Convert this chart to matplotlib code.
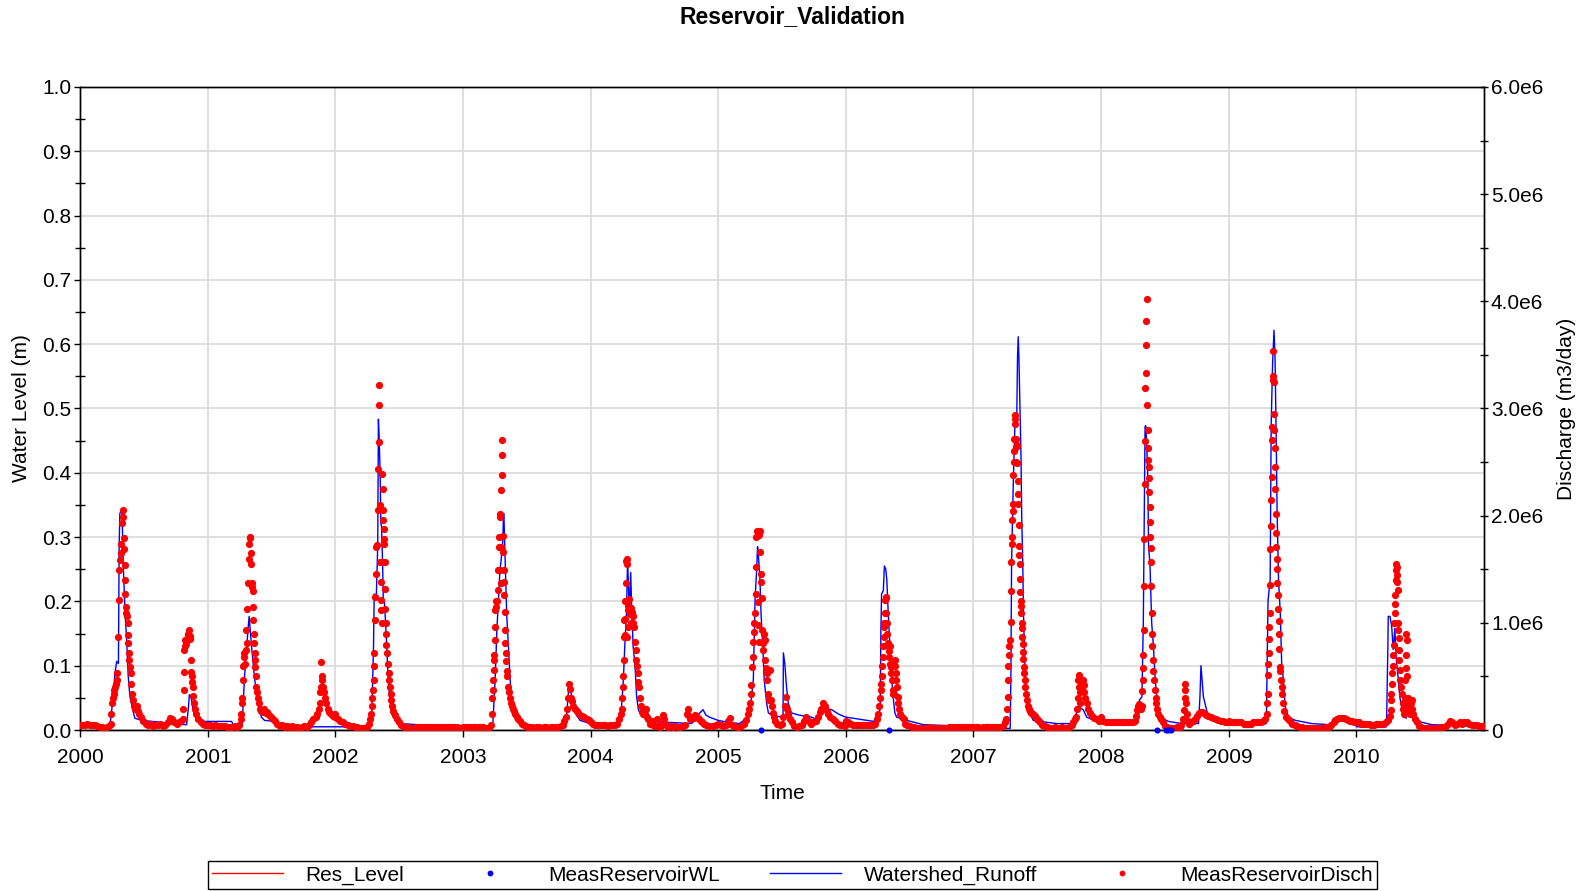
import pandas as pd
import matplotlib
matplotlib.use('Agg')
import matplotlib.pyplot as plt
from matplotlib.ticker import FuncFormatter, MultipleLocator
from matplotlib.lines import Line2D

plt.rcParams['font.family'] = ['Liberation Sans', 'DejaVu Sans']

# measured reservoir discharge, (day of year, 1e6 m3/day)
disch_2000 = [(0,.05),(7,.05),(14,.05),(21,.055),(28,.05),(35,.045),(42,.05),(49,.04),(56,.03),(63,.025),(70,.02),(77,.025),(84,.04),
              (88,.06),(90,.15),(92,.25),(94,.3),(96,.34),(98,.37),(100,.4),(103,.43),(105,.47),(107,.53),(109,.87),(111,1.21),
              (113,1.49),(115,1.59),(116,1.65),(118,1.74),(120,1.93),(122,1.99),(124,2.05),(126,1.79),(127,1.69),(128,1.54),
              (129,1.4),(130,1.27),(131,1.15),(132,1.09),(134,1.06),(136,1.0),(137,.89),(138,.81),(139,.72),(141,.65),(143,.59),
              (145,.53),(147,.43),(149,.34),(152,.28),(155,.22),(158,.2),(162,.22),(166,.18),(170,.15),(175,.12),(181,.08),
              (188,.06),(195,.05),(202,.06),(209,.04),(216,.05),(223,.05),(230,.06),(237,.04),(244,.05),(251,.07),(258,.11),
              (263,.1),(270,.07),(277,.06),(284,.07),(290,.08),(294,.1),(296,.2),(297,.37),(298,.54),(299,.75),(300,.84),
              (301,.78),(303,.8),(305,.84),(308,.87),(310,.9),(312,.93),(314,.88),(316,.85),(318,.65),(319,.54),(320,.5),
              (321,.45),(322,.4),(324,.32),(326,.25),(329,.2),(333,.15),(339,.1),(345,.07),(352,.06),(359,.05)]
disch_2001 = [(0,.05),(7,.05),(14,.04),(21,.05),(28,.04),(35,.04),(42,.04),(49,.04),(56,.03),(63,.03),(70,.03),(77,.04),(84,.03),
              (90,.05),(94,.1),(96,.15),(98,.25),(99,.3),(100,.47),(101,.6),(102,.68),(104,.72),(106,.62),(108,.75),(110,.93),
              (112,1.13),(113,.81),(115,1.37),(117,1.6),(118,1.74),(120,1.8),(121,1.79),(122,1.65),(123,1.55),(125,1.37),
              (126,1.33),(128,1.3),(129,1.15),(130,1.03),(131,.9),(133,.81),(134,.72),(135,.65),(136,.59),(137,.5),(139,.4),
              (141,.35),(143,.3),(146,.25),(149,.2),(153,.18),(157,.17),(161,.2),(165,.16),(170,.17),(175,.14),(180,.12),
              (186,.1),(192,.08),(199,.06),(206,.04),(213,.05),(220,.03),(227,.04),(234,.03),(241,.04),(248,.02),(255,.03),
              (262,.02),(269,.03),(276,.04),(283,.03),(290,.05),(296,.07),(302,.1),(308,.12),(313,.15),(317,.2),(320,.25),
              (322,.35),(324,.4),(325,.63),(326,.5),(327,.47),(329,.4),(331,.35),(334,.3),(338,.25),(343,.2),(348,.17),
              (353,.15),(358,.13),(364,.12)]
disch_2002 = [(0,.15),(7,.1),(14,.08),(21,.07),(28,.06),(35,.05),(42,.04),(49,.04),(56,.03),(63,.03),(70,.02),(77,.02),(84,.02),
              (91,.03),(96,.06),(99,.1),(102,.15),(104,.22),(106,.3),(108,.37),(109,.47),(110,.6),(111,.72),(113,1.03),
              (114,1.24),(115,1.46),(117,1.71),(119,1.73),(121,2.05),(123,2.44),(124,3.03),(125,3.22),(126,2.69),(127,2.1),
              (128,1.57),(129,1.38),(130,1.21),(131,1.12),(132,1.57),(133,1.0),(134,2.39),(135,2.25),(136,2.05),(137,1.96),
              (138,1.88),(139,1.78),(140,1.74),(141,1.57),(142,1.32),(143,1.13),(144,1.0),(145,.9),(146,.79),(148,.72),
              (150,.62),(152,.53),(154,.47),(156,.4),(158,.34),(160,.28),(163,.22),(166,.18),(170,.14),(175,.1),(181,.07),
              (188,.05),(195,.03),(202,.02),(209,.03),(216,.02),(223,.02),(230,.03),(237,.03),(244,.03),(251,.03),(258,.03),
              (265,.03),(272,.03),(279,.03),(286,.03),(293,.03),(300,.03),(307,.03),(314,.03),(321,.03),(328,.03),(335,.03),
              (342,.03),(349,.03),(356,.02),(363,.02)]
disch_2003 = [(0,.03),(7,.03),(14,.03),(21,.03),(28,.03),(35,.03),(42,.03),(49,.03),(56,.03),(63,.02),(70,.02),(75,.02),(80,.05),
              (82,.15),(84,.3),(86,.37),(87,.47),(88,.56),(89,.65),(90,.7),(91,.84),(92,.96),(93,1.12),(94,1.2),(95,1.15),
              (97,1.2),(99,1.31),(101,1.49),(103,1.71),(104,1.8),(105,1.99),(106,2.02),(107,1.49),(108,1.71),(109,1.37),
              (110,2.24),(111,2.38),(112,2.57),(113,2.71),(114,1.81),(115,1.66),(116,1.49),(117,1.38),(118,1.26),(119,1.1),
              (120,.93),(121,.81),(122,.72),(123,.64),(125,.55),(127,.5),(129,.4),(132,.35),(135,.3),(138,.25),(141,.22),
              (144,.2),(147,.18),(150,.15),(154,.12),(158,.1),(163,.08),(168,.06),(175,.05),(182,.03),(189,.03),(196,.03),
              (203,.02),(210,.03),(217,.03),(224,.02),(231,.03),(238,.03),(245,.02),(252,.03),(259,.03),(266,.03),(273,.03),
              (280,.04),(285,.05),(290,.08),(295,.12),(299,.2),(302,.3),(304,.43),(306,.38),(308,.3),(311,.27),(315,.22),
              (320,.2),(326,.18),(333,.15),(340,.13),(347,.12),(354,.1),(361,.09)]
disch_2004 = [(0,.07),(7,.06),(14,.05),(21,.05),(28,.05),(35,.05),(42,.05),(49,.04),(56,.05),(63,.05),(70,.05),(77,.06),(82,.1),
              (86,.15),(89,.2),(91,.3),(93,.4),(94,.5),(95,.65),(96,.87),(97,1.03),(98,1.2),(99,.89),(100,1.04),(101,1.37),
              (102,1.58),(103,1.6),(104,1.55),(105,.87),(106,.96),(107,1.12),(108,1.16),(109,1.15),(110,1.22),(112,1.1),
              (114,1.08),(116,1.0),(117,1.14),(119,1.1),(121,1.06),(123,1.0),(125,.96),(127,.82),(129,.75),(131,.65),
              (133,.6),(135,.53),(137,.45),(139,.4),(141,.3),(144,.22),(147,.17),(150,.15),(153,.2),(156,.15),(159,.2),
              (162,.12),(165,.1),(170,.06),(175,.08),(180,.05),(185,.04),(190,.1),(193,.04),(198,.03),(203,.05),(208,.14),
              (211,.1),(215,.05),(222,.03),(229,.04),(236,.03),(243,.04),(250,.03),(257,.03),(264,.04),(271,.05),(275,.15),
              (278,.2),(280,.14),(285,.1),(290,.12),(295,.11),(300,.14),(305,.12),(310,.1),(315,.08),(320,.07),(325,.06),
              (330,.05),(340,.04),(350,.04),(358,.05),(365,.06)]
disch_2005 = [(7,.05),(14,.04),(21,.05),(28,.08),(33,.11),(38,.05),(45,.04),(52,.03),(59,.03),(66,.04),(73,.06),(80,.09),(85,.15),
              (88,.2),(90,.25),(92,.34),(94,.42),(96,.59),(98,.68),(100,.82),(102,.91),(103,1.0),(105,1.09),(107,1.27),
              (108,1.52),(109,1.8),(111,1.86),(112,1.85),(113,1.19),(114,.98),(115,.82),(117,1.82),(119,1.86),(120,1.66),
              (121,1.46),(122,1.38),(124,1.23),(126,.93),(127,.81),(128,.75),(130,.9),(132,.84),(134,.65),(136,.58),
              (138,.53),(140,.47),(142,.34),(144,.28),(147,.56),(150,.28),(152,.22),(155,.16),(158,.12),(163,.08),(168,.06),
              (175,.05),(181,.06),(186,.12),(190,.22),(193,.31),(196,.2),(200,.15),(205,.1),(210,.07),(217,.04),(224,.03),
              (231,.04),(238,.05),(245,.08),(252,.12),(258,.08),(265,.06),(272,.07),(279,.08),(285,.12),(290,.17),(295,.2),
              (300,.25),(305,.22),(310,.18),(315,.15),(320,.12),(327,.1),(334,.08),(341,.06),(348,.05),(355,.05),(362,.04)]
disch_2006 = [(0,.08),(7,.07),(14,.06),(21,.05),(28,.05),(35,.05),(42,.05),(49,.05),(56,.05),(63,.05),(70,.05),(77,.05),(84,.06),
              (88,.1),(92,.15),(95,.22),(97,.3),(99,.37),(100,.43),(102,.5),(104,.6),(105,.68),(107,.78),(108,.87),(109,.96),
              (110,1.0),(111,1.09),(113,1.21),(114,1.24),(115,1.23),(116,1.09),(117,1.0),(118,.9),(119,.81),(120,.78),
              (122,.74),(123,.68),(125,.78),(127,.62),(128,.59),(130,.53),(132,.47),(134,.37),(136,.34),(138,.34),(140,.65),
              (141,.6),(142,.53),(144,.47),(146,.4),(148,.31),(150,.25),(153,.2),(156,.15),(160,.12),(165,.1),(170,.06),
              (176,.05),(182,.04),(189,.03),(196,.03),(203,.02),(210,.02),(217,.02),(224,.02),(231,.02),(238,.03),(245,.02),
              (252,.02),(259,.02),(266,.02),(273,.02),(280,.02),(287,.02),(294,.03),(301,.03),(308,.03),(315,.03),(322,.03),
              (329,.03),(336,.03),(343,.03),(350,.03),(357,.03),(364,.03)]
disch_2007 = [(0,.03),(7,.03),(14,.03),(21,.02),(28,.03),(35,.03),(42,.03),(49,.03),(56,.03),(63,.03),(70,.03),(77,.03),(84,.04),
              (89,.07),(93,.1),(96,.2),(98,.31),(99,.47),(100,.6),(102,.7),(103,.78),(104,.84),(106,1.01),(107,1.3),(108,1.57),
              (109,1.74),(110,1.8),(111,1.96),(112,2.04),(113,2.11),(114,2.38),(115,2.5),(116,2.6),(117,2.72),(118,2.86),
              (119,2.94),(120,2.9),(121,2.72),(122,2.5),(123,2.64),(124,2.66),(125,2.49),(126,2.32),(127,2.2),(128,2.11),
              (129,1.91),(130,1.72),(131,1.63),(132,1.55),(133,1.41),(134,1.29),(135,1.2),(136,1.16),(137,1.09),(138,1.0),
              (139,.95),(140,.87),(141,.8),(142,.73),(143,.66),(144,.59),(145,.53),(146,.47),(148,.4),(150,.34),(152,.28),
              (155,.22),(158,.2),(162,.18),(166,.16),(171,.15),(176,.13),(181,.1),(186,.09),(191,.07),(197,.05),(204,.04),
              (211,.03),(218,.02),(225,.02),(232,.03),(239,.02),(246,.02),(253,.03),(260,.02),(267,.02),(274,.03),(281,.05),
              (286,.07),(290,.1),(294,.12),(297,.2),(299,.3),(300,.47),(301,.51),(302,.4),(304,.35),(305,.25),(307,.42),
              (309,.37),(311,.44),(313,.47),(315,.42),(317,.35),(320,.3),(324,.25),(329,.2),(334,.16),(340,.13),(346,.11),
              (353,.1),(360,.08)]
disch_2008 = [(0,.12),(7,.08),(14,.07),(21,.07),(28,.07),(35,.07),(42,.07),(49,.07),(56,.07),(63,.07),(70,.07),(77,.07),(84,.07),
              (91,.07),(97,.08),(101,.13),(104,.19),(107,.22),(110,.24),(114,.2),(117,.22),(118,.36),(119,.47),(120,.58),
              (121,.7),(122,.93),(123,1.34),(124,1.78),(125,2.3),(126,2.7),(127,3.19),(128,3.33),(129,3.59),(130,3.82),
              (131,4.02),(132,3.03),(133,2.8),(134,2.63),(135,2.52),(136,2.45),(137,2.35),(138,2.22),(139,2.08),(140,1.94),
              (141,1.8),(142,1.7),(143,1.57),(144,1.34),(145,1.09),(146,.9),(147,.78),(148,.65),(150,.55),(152,.47),
              (154,.37),(156,.3),(158,.25),(161,.2),(164,.15),(168,.12),(172,.1),(177,.07),(183,.04),(190,.03),(197,.02),
              (204,.02),(211,.02),(218,.03),(225,.03),(230,.05),(234,.1),(237,.19),(239,.3),(240,.43),(241,.37),(243,.25),
              (245,.15),(248,.08),(252,.06),(258,.07),(264,.08),(270,.1),(275,.13),(280,.16),(285,.17),(290,.17),(295,.16),
              (300,.14),(307,.13),(314,.12),(321,.11),(328,.1),(335,.09),(342,.08),(349,.08),(356,.07),(363,.07)]
disch_2009 = [(0,.08),(7,.07),(14,.07),(21,.07),(28,.07),(35,.07),(42,.06),(49,.06),(56,.06),(63,.06),(70,.07),(77,.07),(84,.07),
              (91,.07),(98,.08),(103,.1),(108,.15),(110,.25),(111,.34),(112,.51),(113,.62),(114,.72),(115,.85),(116,.96),
              (117,1.09),(118,1.35),(119,1.69),(120,1.9),(121,2.15),(122,2.36),(123,2.71),(124,2.83),(125,3.27),(126,3.3),
              (127,3.54),(128,3.25),(129,2.95),(130,2.8),(131,2.63),(132,2.45),(133,2.25),(134,2.02),(135,1.84),(136,1.71),
              (137,1.6),(138,1.5),(139,1.37),(140,1.26),(141,1.13),(142,1.02),(143,.9),(144,.76),(145,.59),(147,.55),
              (149,.47),(151,.4),(153,.34),(156,.25),(159,.18),(163,.12),(168,.1),(174,.08),(181,.06),(188,.05),(195,.04),
              (202,.03),(209,.03),(216,.02),(223,.02),(230,.02),(237,.02),(244,.02),(251,.02),(258,.02),(265,.02),(272,.02),
              (279,.03),(286,.03),(293,.05),(300,.07),(305,.09),(310,.1),(316,.11),(322,.11),(328,.11),(334,.1),(340,.09),
              (346,.08),(352,.08),(358,.07),(364,.07)]
disch_2010 = [(0,.07),(7,.07),(14,.06),(21,.06),(28,.06),(35,.06),(42,.05),(49,.05),(56,.06),(63,.06),(70,.06),(77,.06),(84,.07),
              (90,.09),(95,.13),(98,.19),(99,.28),(100,.34),(101,.43),(103,.53),(104,.6),(105,.7),(107,.79),(108,1.0),
              (109,1.09),(110,1.18),(111,1.26),(112,1.4),(113,1.49),(114,1.55),(115,1.52),(116,1.45),(117,1.38),(118,1.31),
              (119,1.0),(120,.93),(121,.86),(122,.75),(123,.65),(124,.56),(126,.47),(128,.4),(130,.34),(132,.25),(134,.2),
              (136,.15),(138,.2),(139,.3),(140,.47),(141,.58),(142,.7),(143,.9),(144,.84),(145,.5),(147,.3),(149,.25),
              (151,.2),(153,.15),(156,.25),(158,.28),(160,.2),(163,.15),(167,.1),(172,.07),(178,.04),(185,.03),(192,.02),
              (199,.02),(206,.02),(213,.02),(220,.02),(227,.02),(234,.02),(241,.03),(248,.03),(255,.04),(262,.06),(268,.08),
              (274,.07),(281,.05),(288,.06),(295,.07),(302,.06),(309,.07),(316,.07),(323,.06),(330,.05),(337,.05),(344,.05),
              (351,.04),(358,.04),(364,.04)]

# simulated watershed runoff, (day of year, 1e6 m3/day)
runoff_2000 = [(0,.035),(80,.035),(86,.05),(95,.31),(100,.53),(105,.64),(110,.62),(112,1.7),(114,2.02),(119,2.05),(121,1.95),
               (124,1.52),(129,1.09),(134,.81),(138,.5),(143,.31),(153,.16),(157,.11),(176,.09),(300,.05),(305,.05),(310,.2),
               (313,.33),(318,.3),(324,.18),(334,.1),(343,.08)]
runoff_2001 = [(0,.08),(68,.08),(72,.05),(98,.05),(105,.5),(111,.78),(118,1.06),(125,.78),(134,.47),(143,.25),(153,.12),
               (162,.09),(191,.08),(210,.06),(287,.03),(364,.03)]
runoff_2002 = [(0,.03),(95,.03),(104,.15),(109,.78),(111,1.27),(117,1.25),(121,1.71),(123,2.9),(125,2.74),(128,2.39),
               (130,1.93),(132,1.9),(135,1.55),(137,1.21),(140,1.2),(142,1.09),(147,.78),(151,.47),(156,.28),(161,.15),
               (171,.09),(185,.06),(233,.05),(364,.04)]
runoff_2003 = [(0,.03),(85,.03),(87,.15),(92,.47),(97,.93),(106,1.5),(109,1.58),(114,1.77),(116,2.02),(117,2.02),(118,1.9),
               (122,1.4),(125,1.09),(130,.78),(135,.47),(139,.28),(144,.15),(154,.09),(173,.06),(211,.04),(287,.04),(297,.15),
               (304,.45),(311,.31),(321,.16),(335,.09),(364,.06)]
runoff_2004 = [(0,.09),(20,.06),(80,.06),(89,.22),(94,.47),(98,.78),(103,1.09),(106,1.58),(108,1.4),(111,1.09),(115,1.47),
               (118,1.12),(122,.78),(127,.62),(132,.31),(137,.19),(141,.16),(152,.12),(175,.08),(289,.06),(299,.09),(310,.15),
               (322,.19),(330,.14),(340,.12),(365,.09)]
runoff_2005 = [(30,.07),(60,.06),(85,.12),(95,.31),(100,.47),(105,1.24),(109,1.46),(112,1.71),(114,1.65),(119,1.4),(122,1.09),
               (127,.78),(131,.47),(138,.25),(143,.16),(152,.14),(181,.12),(185,.12),(186,.72),(190,.62),(195,.4),(200,.25),
               (209,.16),(229,.14),(248,.13),(267,.12),(286,.09),(295,.19),(305,.2),(324,.19),(343,.15),(364,.12)]
runoff_2006 = [(0,.12),(40,.1),(80,.08),(98,.19),(100,.93),(102,1.27),(107,1.3),(110,1.53),(114,1.5),(117,1.4),(121,1.09),
               (126,.78),(131,.47),(136,.28),(140,.16),(145,.12),(174,.09),(221,.05),(298,.04),(364,.03)]
runoff_2007 = [(0,.015),(105,.015),(107,.5),(109,1.55),(114,2.32),(119,2.9),(124,2.95),(126,3.48),(128,3.67),(130,3.48),
               (133,3.0),(136,2.55),(138,2.0),(141,1.55),(143,1.09),(147,.62),(152,.31),(162,.15),(171,.09),(191,.08),
               (238,.06),(286,.06),(300,.22),(314,.19),(324,.12),(345,.09),(364,.08)]
runoff_2008 = [(0,.08),(100,.07),(107,.09),(110,.28),(117,.31),(121,1.0),(126,2.83),(128,2.84),(131,2.64),(134,2.33),
               (136,1.71),(140,1.55),(145,1.0),(150,.78),(155,.47),(164,.16),(174,.11),(193,.08),(231,.06),(279,.06),
               (283,.3),(286,.6),(293,.31),(307,.12),(326,.11),(365,.08)]
runoff_2009 = [(0,.06),(107,.06),(112,1.21),(118,1.4),(121,2.86),(125,3.42),(129,3.73),(132,3.48),(135,2.8),(138,2.02),
               (142,1.4),(147,1.09),(151,.62),(156,.47),(161,.22),(170,.12),(190,.09),(237,.06),(285,.05),(304,.09),
               (323,.09),(364,.05)]
runoff_2010 = [(0,.03),(86,.03),(90,.8),(91,1.06),(96,1.06),(101,.96),(105,.75),(110,.95),(112,.78),(115,.62),(120,.47),
               (124,.31),(129,.22),(139,.16),(142,.11),(143,.31),(148,.22),(158,.12),(177,.08),(215,.05),(364,.03)]

# measured reservoir water level (m)
wl_dates = ['2005-05-03', '2006-05-04', '2008-06-08', '2008-07-04', '2008-07-10', '2008-07-18']
wl_values = [0.0, 0.0, 0.0, 0.0, 0.0, 0.0]

# simulated reservoir level (m), no values in this period
res_dates = []
res_values = []

years = list(range(2000, 2011))
disch_by_year = dict(zip(years, [disch_2000, disch_2001, disch_2002, disch_2003, disch_2004, disch_2005,
                                 disch_2006, disch_2007, disch_2008, disch_2009, disch_2010]))
runoff_by_year = dict(zip(years, [runoff_2000, runoff_2001, runoff_2002, runoff_2003, runoff_2004, runoff_2005,
                                  runoff_2006, runoff_2007, runoff_2008, runoff_2009, runoff_2010]))


def to_series(by_year):
    dates, vals = [], []
    for yr, pts in by_year.items():
        for doy, v in pts:
            dates.append(pd.Timestamp(yr, 1, 1) + pd.Timedelta(days=doy))
            vals.append(v * 1e6)
    return pd.Series(vals, index=pd.DatetimeIndex(dates))


disch = to_series(disch_by_year)
runoff = to_series(runoff_by_year)

W, H = 1585, 891
fig = plt.figure(figsize=(W / 100, H / 100), dpi=100)
ax = fig.add_axes([80 / W, 1 - 730 / H, (1484 - 80) / W, (730 - 87) / H])
ax2 = ax.twinx()

# water level axis (left)
l_res, = ax.plot(pd.to_datetime(res_dates), res_values, color='red', lw=1, label='Res_Level')
ax.set_ylim(0, 1)
ax.set_xlim(pd.Timestamp('2000-01-01'), pd.Timestamp('2011-01-01'))
ax.set_xticks([pd.Timestamp(y, 1, 1) for y in years])
ax.set_xticklabels([str(y) for y in years])
ax.yaxis.set_major_locator(MultipleLocator(0.1))
ax.yaxis.set_minor_locator(MultipleLocator(0.05))
ax.yaxis.set_major_formatter(FuncFormatter(lambda v, p: f'{v:.1f}'))
ax.grid(True, color='#dcdcdc', lw=1.3)
ax.set_axisbelow(True)
ax.tick_params(axis='y', which='major', direction='out', length=4, width=1, labelsize=15, pad=2)
ax.tick_params(axis='y', which='minor', direction='inout', length=7, width=1)
ax.tick_params(axis='x', which='major', direction='out', length=5, width=1, labelsize=15, pad=8)
ax.set_ylabel('Water Level (m)', fontsize=15, labelpad=8)
ax.set_xlabel('Time', fontsize=15, labelpad=12)

# discharge axis (right)
l_run, = ax2.plot(runoff.index, runoff.values, color='#0000ff', lw=1.0, label='Watershed_Runoff', zorder=2)
l_dis, = ax2.plot(disch.index, disch.values, 'o', color='#ff0000', ms=5.2, mew=0,
                  label='MeasReservoirDisch', zorder=3)
l_wl, = ax2.plot(pd.to_datetime(wl_dates), wl_values, 'o', color='#0000ff', ms=4.4, mew=0,
                 transform=ax.transData, clip_on=False, label='MeasReservoirWL', zorder=4)
ax2.set_ylim(0, 6e6)
ax2.yaxis.set_major_locator(MultipleLocator(1e6))
ax2.yaxis.set_minor_locator(MultipleLocator(0.5e6))
ax2.yaxis.set_major_formatter(FuncFormatter(lambda v, p: '0' if v == 0 else f'{v / 1e6:.1f}e6'))
ax2.tick_params(axis='y', which='major', direction='inout', length=6, width=1, labelsize=15, pad=2)
ax2.tick_params(axis='y', which='minor', direction='inout', length=6, width=1)
ax2.set_ylabel('Discharge (m3/day)', fontsize=15, labelpad=10)

for a in (ax, ax2):
    for s in a.spines.values():
        s.set_color('black')
        s.set_linewidth(1.0)

fig.text(0.5, 1 - 17 / H, 'Reservoir_Validation', ha='center', va='center', fontsize=16.5, fontweight='bold')

handles = [l_res, Line2D([], [], ls='none', marker='o', color='#0000ff', ms=4.2, mew=0), l_run,
           Line2D([], [], ls='none', marker='o', color='#ff0000', ms=4.2, mew=0)]
labels = ['Res_Level', 'MeasReservoirWL', 'Watershed_Runoff', 'MeasReservoirDisch']
leg = fig.legend(handles, labels, loc='lower center', bbox_to_anchor=(0.5, 2 / H), ncol=4, fontsize=15,
                 frameon=True, fancybox=False, edgecolor='black', framealpha=1, handlelength=3.4,
                 handletextpad=1.1, columnspacing=2.4, borderpad=0.2, borderaxespad=0)
leg.get_frame().set_linewidth(1.0)

fig.savefig('out.png', dpi=100)
